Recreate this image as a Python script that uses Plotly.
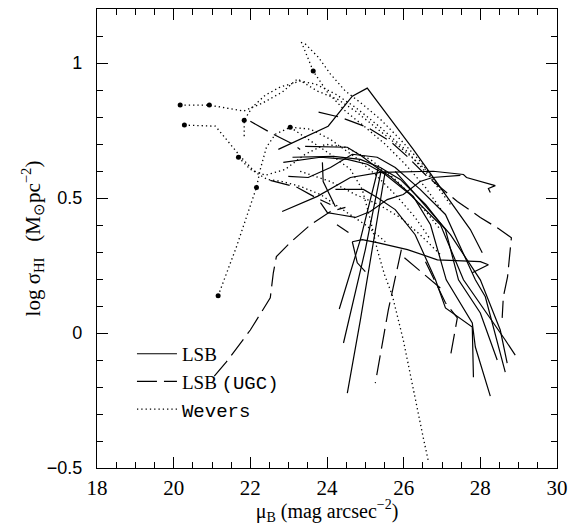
import plotly.graph_objects as go

# ---------------- data (mu_B [mag arcsec^-2], log sigma_HI [Msun pc^-2]) ----------------
# LSB galaxies (solid lines)
lsb_profiles = [
    ([22.73, 24.03, 24.66, 25.05, 26.25, 27.74, 28.05], [0.680, 0.766, 0.877, 0.907, 0.680, 0.383, 0.297]),
    ([22.83, 23.75, 24.61, 25.39, 26.77, 27.56, 27.64, 28.39, 28.21, 28.26], [0.450, 0.506, 0.576, 0.595, 0.599, 0.587, 0.576, 0.546, 0.535, 0.520]),
    ([23.83, 24.01, 24.30, 24.74, 25.13, 25.57, 25.99, 26.43, 26.75, 27.48], [0.483, 0.446, 0.439, 0.428, 0.450, 0.494, 0.513, 0.561, 0.576, 0.584]),
    ([23.43, 24.53, 24.92, 25.26, 25.65, 26.04, 26.25, 26.70, 27.11, 27.79, 27.87, 28.26], [0.691, 0.688, 0.654, 0.617, 0.580, 0.532, 0.506, 0.401, 0.197, 0.037, -0.052, -0.234]),
    ([23.10, 24.17, 24.87, 25.39, 25.91, 26.57, 27.09, 27.43, 28.00, 28.44], [0.651, 0.654, 0.643, 0.613, 0.569, 0.476, 0.383, 0.197, 0.074, -0.100]),
    ([22.86, 23.83, 24.53, 25.05, 25.52, 26.17, 26.96, 27.56, 28.65, 28.91], [0.632, 0.651, 0.643, 0.625, 0.587, 0.513, 0.401, 0.197, -0.026, -0.082]),
    ([22.99, 23.51, 24.09, 24.66, 25.31, 25.78, 26.43, 27.09, 27.87, 28.13, 28.65], [0.580, 0.576, 0.613, 0.662, 0.651, 0.613, 0.532, 0.439, 0.197, 0.134, -0.145]),
    ([24.22, 24.95, 25.31, 25.78, 26.30, 26.83, 27.09, 27.79, 27.82], [0.532, 0.532, 0.502, 0.457, 0.364, 0.197, 0.093, 0.022, -0.164]),
    ([24.66, 24.92, 25.31, 26.10, 26.88, 28.00, 28.21, 27.79], [0.338, 0.346, 0.335, 0.309, 0.271, 0.264, 0.253, 0.223]),
    ([24.66, 24.79, 25.00], [0.338, 0.260, 0.227]),
    ([23.88, 23.90, 24.22], [0.632, 0.561, 0.468]),
    ([25.52, 25.18, 24.87, 24.53], [0.599, 0.309, 0.048, -0.223]),
    ([25.42, 25.00, 24.43], [0.606, 0.309, -0.037]),
    ([25.34, 24.87, 24.32], [0.613, 0.346, 0.089]),
    ([25.78, 26.43, 27.22, 28.00, 28.52, 28.70], [0.599, 0.494, 0.364, 0.197, 0.011, -0.112]),
    ([24.26, 24.56], [0.401, 0.372]),
]

# LSB galaxies from UGC (dashed lines)
ugc_profiles = [
    ([23.78, 24.35, 25.05, 25.65, 26.09, 26.61, 27.40, 28.00, 28.47, 28.81, 28.71, 28.60, 28.57],
     [0.818, 0.799, 0.762, 0.710, 0.654, 0.580, 0.487, 0.428, 0.387, 0.353, 0.208, 0.134, 0.056]),
    ([21.06, 21.37, 22.00, 22.52, 22.60, 22.68, 23.04, 23.57, 24.09, 24.48],
     [-0.160, -0.108, 0.011, 0.130, 0.223, 0.283, 0.335, 0.401, 0.450, 0.465]),
    ([25.94, 25.60, 25.26], [0.309, 0.086, -0.186]),
    ([26.02, 26.62, 27.01], [0.279, 0.208, 0.160]),
    ([26.57, 27.09, 27.40, 27.22], [0.264, 0.112, 0.056, -0.086]),
    ([22.52, 23.04, 23.23, 23.70, 24.09], [0.565, 0.546, 0.539, 0.502, 0.476]),
    ([22.00, 22.47, 22.60, 23.12, 23.30], [0.784, 0.747, 0.736, 0.699, 0.680]),
]

# Wevers galaxies (dotted lines)
wevers_profiles = [
    ([20.17, 20.93, 21.82, 22.31, 22.83, 23.23, 23.75, 24.27, 24.74, 25.26, 25.91, 26.57, 27.09],
     [0.844, 0.844, 0.822, 0.851, 0.892, 0.941, 0.896, 0.866, 0.822, 0.762, 0.688, 0.606, 0.513]),
    ([20.28, 21.09, 21.74, 22.13, 22.44, 22.83, 23.30, 23.83, 24.48, 25.00, 25.52],
     [0.770, 0.766, 0.654, 0.595, 0.569, 0.561, 0.543, 0.513, 0.450, 0.401, 0.338]),
    ([21.84, 21.84, 22.05, 22.39, 22.78, 23.30, 23.70, 24.22, 24.74, 25.39, 26.04, 26.70, 27.22],
     [0.729, 0.788, 0.836, 0.881, 0.911, 0.933, 0.922, 0.885, 0.836, 0.762, 0.680, 0.576, 0.476]),
    ([21.69, 22.00, 22.39, 22.91, 23.43, 23.96, 24.48, 25.13, 25.78, 26.43, 26.96],
     [0.651, 0.606, 0.584, 0.606, 0.662, 0.699, 0.688, 0.643, 0.569, 0.476, 0.383]),
    ([21.16, 21.63, 22.16, 22.26, 22.42, 22.65, 23.04, 23.57, 24.09, 24.74, 25.26, 25.78, 26.30, 26.70],
     [0.138, 0.316, 0.539, 0.606, 0.688, 0.736, 0.762, 0.755, 0.717, 0.651, 0.587, 0.513, 0.428, 0.346]),
    ([23.04, 23.57, 24.09, 24.61, 24.92, 25.13, 25.31, 25.50, 25.70, 25.99, 26.25, 26.51, 26.64],
     [0.762, 0.710, 0.662, 0.606, 0.532, 0.420, 0.309, 0.216, 0.141, -0.026, -0.212, -0.387, -0.472]),
    ([23.33, 23.64, 24.01, 24.48, 25.00, 25.52, 26.04, 26.57, 27.01],
     [1.078, 0.970, 0.892, 0.822, 0.762, 0.699, 0.625, 0.539, 0.450]),
    ([23.43, 23.77, 24.09, 24.48, 24.92, 25.39, 25.91, 26.43, 26.90],
     [1.071, 1.022, 0.959, 0.896, 0.848, 0.792, 0.717, 0.636, 0.550]),
    ([23.30, 24.09, 24.74, 25.34, 25.91, 26.43, 26.96],
     [0.599, 0.561, 0.513, 0.476, 0.428, 0.364, 0.290]),
]

# Wevers inner points (filled dots)
wevers_dot_mu = [20.17, 20.93, 20.28, 21.84, 21.69, 22.16, 21.16, 23.04, 23.64]
wevers_dot_sig = [0.844, 0.844, 0.770, 0.788, 0.651, 0.539, 0.138, 0.762, 0.970]

x_ticks = [18, 20, 22, 24, 26, 28, 30]
y_ticks = [-0.5, 0, 0.5, 1]
y_tick_text = ["−0.5", "0", "0.5", "1"]


def joined(profiles):
    xs, ys = [], []
    for mu, sg in profiles:
        xs += list(mu) + [None]
        ys += list(sg) + [None]
    return xs, ys


SERIF = "Liberation Serif, Times New Roman, serif"
SANS = "Liberation Sans, Arial, sans-serif"
MONO_SPAN = "<span style=\"font-family:'Liberation Mono'\">{}</span>"

fig = go.Figure()

x, y = joined(lsb_profiles)
fig.add_trace(go.Scatter(x=x, y=y, mode="lines", name="LSB",
                         line=dict(color="black", width=1.2)))
x, y = joined(ugc_profiles)
fig.add_trace(go.Scatter(x=x, y=y, mode="lines",
                         name="LSB " + MONO_SPAN.format("(UGC)"),
                         line=dict(color="black", width=1.2, dash="20px,7px")))
x, y = joined(wevers_profiles)
fig.add_trace(go.Scatter(x=x, y=y, mode="lines",
                         name=MONO_SPAN.format("Wevers"),
                         line=dict(color="black", width=1.3, dash="1.3px,3px")))
fig.add_trace(go.Scatter(x=wevers_dot_mu, y=wevers_dot_sig, mode="markers",
                         showlegend=False,
                         marker=dict(color="black", size=5)))

axis_common = dict(
    showline=True, linecolor="black", linewidth=1.3, mirror="allticks",
    ticks="inside", ticklen=11, tickwidth=1.1, tickcolor="black",
    showgrid=False, zeroline=False, automargin=False,
)

fig.update_xaxes(
    range=[18, 30], tickvals=x_ticks, ticktext=[str(v) for v in x_ticks],
    minor=dict(dtick=0.5, ticks="inside", ticklen=6, tickwidth=1, tickcolor="black", showgrid=False),
    tickfont=dict(family=SERIF, size=21, color="black"),
    ticklabelstandoff=1,
    title=dict(text="μ<sub>B</sub> (mag arcsec<sup>−2</sup>)",
               font=dict(family=SERIF, size=20, color="black"), standoff=9),
    **axis_common,
)
fig.update_yaxes(
    range=[-0.5, 1.2], tickvals=y_ticks, ticktext=y_tick_text,
    minor=dict(dtick=0.1, ticks="inside", ticklen=6, tickwidth=1, tickcolor="black", showgrid=False),
    tickfont=dict(family=SANS, size=18, color="black"),
    ticklabelstandoff=10,
    title=dict(text="log σ<sub>HI</sub>&nbsp;&nbsp;&nbsp;(M<sub>⊙</sub>pc<sup>−2</sup>)",
               font=dict(family=SERIF, size=21, color="black"), standoff=0),
    **axis_common,
)

fig.update_layout(
    width=571, height=525,
    margin=dict(l=97, r=14, t=9, b=57, pad=0),
    paper_bgcolor="white", plot_bgcolor="white",
    showlegend=True,
    legend=dict(x=0.076, y=0.29, xanchor="left", yanchor="top",
                bgcolor="rgba(0,0,0,0)", borderwidth=0,
                font=dict(family=SERIF, size=19, color="black"),
                tracegroupgap=0, itemwidth=40),
)

fig.write_html("out.html",
               config={"displayModeBar": False},
               post_script="document.body.style.margin='0px';document.body.style.overflow='hidden';")
